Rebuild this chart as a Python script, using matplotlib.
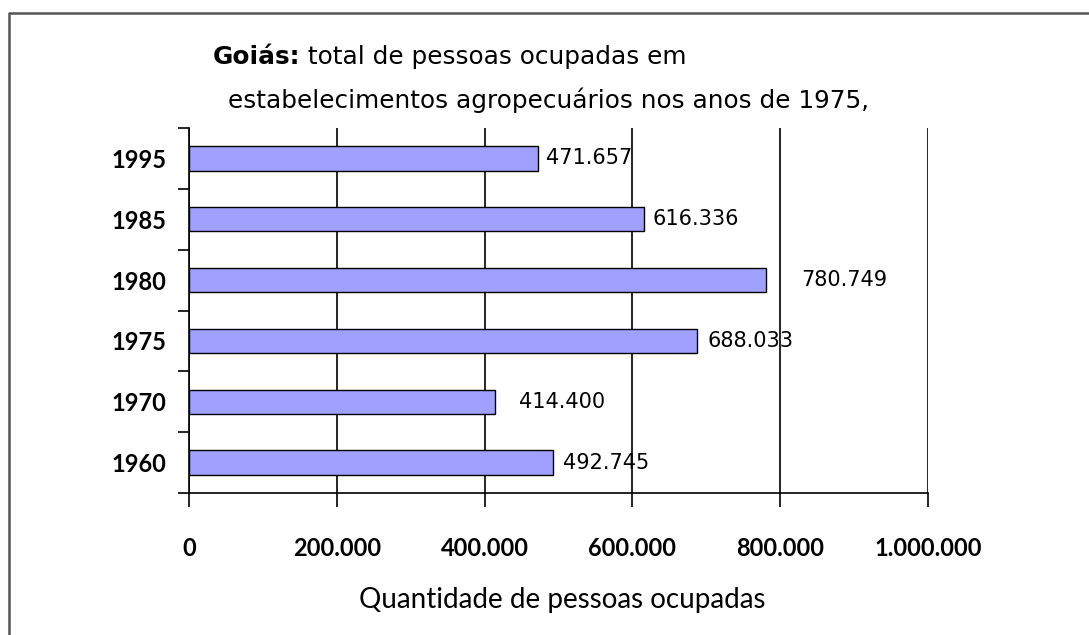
import matplotlib
matplotlib.use("Agg")
import matplotlib.pyplot as plt
from matplotlib.lines import Line2D
from matplotlib.ticker import FuncFormatter, FixedLocator

# Data
years = ["1960", "1970", "1975", "1980", "1985", "1995"]
pessoas = [492745, 414400, 688033, 780749, 616336, 471657]
x_ticks = [0, 200000, 400000, 600000, 800000, 1000000]
label_offsets_px = [10, 24, 10, 35, 8, 8]

title_bold = "Goiás:"
title_rest = " total de pessoas ocupadas em"
title_line2 = "estabelecimentos agropecuários nos anos de 1975,"
xlabel = "Quantidade de pessoas ocupadas"

W, H = 1089, 635
fig = plt.figure(figsize=(W / 100, H / 100), dpi=100)
fig.patch.set_facecolor("white")

def fx(px):
    return px / W

def fy(py):
    return 1 - py / H

ax = fig.add_axes([fx(189), fy(493), fx(928) - fx(189), fy(128) - fy(493)])
ax.set_facecolor("white")

pos = list(range(len(years)))
ax.barh(pos, pessoas, height=0.4, color="#a0a0ff", edgecolor="black",
        linewidth=1.0, zorder=3)

ax.set_xlim(0, 1000000)
ax.set_ylim(-0.5, len(years) - 0.5)

# x axis
ax.xaxis.set_major_locator(FixedLocator(x_ticks))
ax.xaxis.set_major_formatter(FuncFormatter(lambda v, p: f"{int(v):,}".replace(",", ".")))
ax.tick_params(axis="x", direction="out", length=10, width=1.2, color="black",
               pad=22, labelsize=17)
for lbl in ax.get_xticklabels():
    lbl.set_fontfamily("Lato")
    lbl.set_fontweight("bold")

ax.grid(axis="x", color="black", linewidth=1.2, zorder=1)
ax.grid(axis="y", visible=False)

# y axis: major ticks at boundaries, labels at centers
ax.yaxis.set_major_locator(FixedLocator([p - 0.5 for p in pos] + [len(years) - 0.5]))
ax.yaxis.set_major_formatter(FuncFormatter(lambda v, p: ""))
ax.yaxis.set_minor_locator(FixedLocator(pos))
ax.set_yticklabels(years, minor=True)
ax.tick_params(axis="y", which="major", direction="out", length=8, width=1.2, color="black")
ax.tick_params(axis="y", which="minor", length=0, pad=16, labelsize=17)
for lbl in ax.get_yticklabels(minor=True):
    lbl.set_fontfamily("Lato")
    lbl.set_fontweight("bold")

for s in ["top", "right"]:
    ax.spines[s].set_visible(False)
for s in ["left", "bottom"]:
    ax.spines[s].set_color("black")
    ax.spines[s].set_linewidth(1.2)

# value labels
for p, v, off in zip(pos, pessoas, label_offsets_px):
    ax.annotate(f"{v:,}".replace(",", "."), xy=(v, p), xytext=(off * 0.72, 0),
                textcoords="offset points", ha="left", va="center",
                fontsize=15, fontfamily="DejaVu Sans", color="black", zorder=5)

# x label
fig.text(fx(562), fy(600), xlabel, ha="center", va="center", fontsize=20,
         fontfamily="Lato", color="black")

# title
renderer = fig.canvas.get_renderer()
t1 = fig.text(fx(213), fy(57), title_bold, ha="left", va="center", fontsize=17.8,
              fontweight="bold", fontfamily="DejaVu Sans", color="black")
bb = t1.get_window_extent(renderer=renderer)
fig.text(bb.x1 / W, fy(57), title_rest, ha="left", va="center", fontsize=17.8,
         fontfamily="DejaVu Sans", color="black")
fig.text(fx(228), fy(100), title_line2, ha="left", va="center", fontsize=17.8,
         fontfamily="DejaVu Sans", color="black")

# outer border (left and top visible)
fig.add_artist(Line2D([fx(9), fx(9), 1.0], [0.0, fy(13), fy(13)],
                      color="#555555", linewidth=1.8, transform=fig.transFigure))

fig.savefig("out.png", dpi=100, facecolor="white")
